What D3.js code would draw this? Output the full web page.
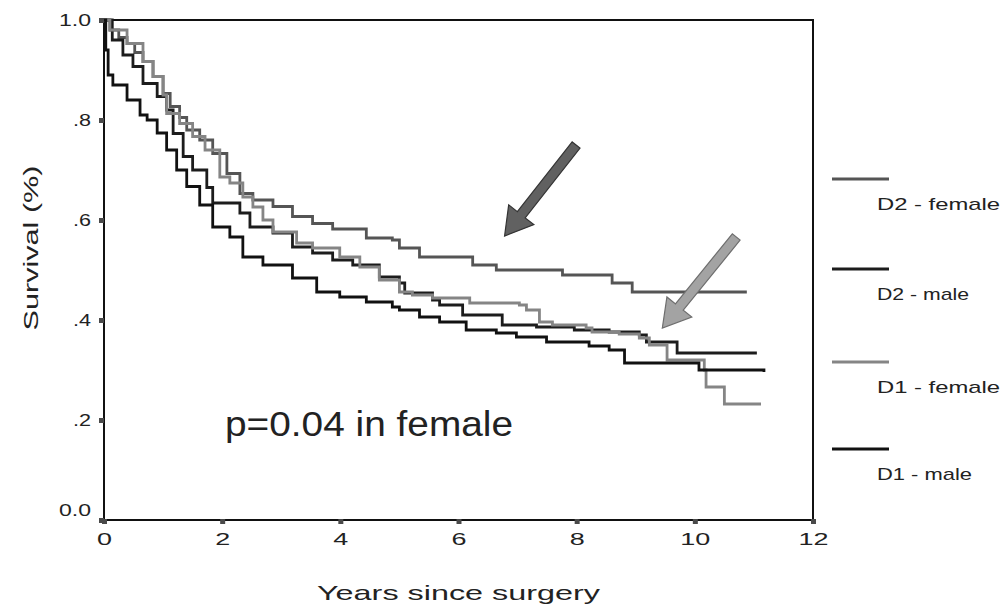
<!DOCTYPE html>
<html>
<head>
<meta charset="utf-8">
<script src="https://cdn.jsdelivr.net/npm/d3@7"></script>
<style>
  body { margin: 0; background: #fff; }
  svg { display: block; }
  text { font-family: "Liberation Sans", Arial, sans-serif; fill: #222; }
</style>
</head>
<body>
<svg id="chart" width="1005" height="606"></svg>
<script>
// Kaplan-Meier step curves, [years, survival]
var d2Female = [[0,1],[0.10,0.98],[0.25,0.965],[0.39,0.953],[0.52,0.935],[0.66,0.917],[0.83,0.887],
  [1.00,0.853],[1.12,0.827],[1.28,0.805],[1.40,0.78],[1.62,0.76],[1.84,0.733],[2.08,0.693],[2.30,0.653],
  [2.52,0.64],[2.86,0.627],[3.19,0.607],[3.53,0.593],[3.87,0.582],[4.44,0.564],[4.88,0.56],[5.00,0.544],
  [5.34,0.526],[6.24,0.51],[6.64,0.50],[7.76,0.49],[8.60,0.474],[8.94,0.456],[10.88,0.456]];
var d2Male = [[0,1],[0.14,0.96],[0.32,0.93],[0.49,0.907],[0.66,0.873],[0.90,0.847],[1.06,0.82],
  [1.17,0.773],[1.34,0.727],[1.50,0.70],[1.74,0.665],[1.84,0.634],[2.30,0.614],[2.47,0.586],[2.86,0.574],
  [3.19,0.546],[3.53,0.534],[3.87,0.52],[4.21,0.51],[4.66,0.486],[5.00,0.474],[5.09,0.454],[5.56,0.44],
  [5.68,0.43],[6.07,0.41],[6.74,0.39],[7.32,0.386],[7.96,0.38],[8.55,0.376],[9.06,0.37],[9.18,0.356],
  [9.70,0.334],[11.05,0.334]];
var d1Female = [[0,1],[0.10,0.98],[0.39,0.953],[0.66,0.917],[0.83,0.887],[1.00,0.85],[1.06,0.813],
  [1.28,0.793],[1.50,0.767],[1.71,0.74],[1.96,0.686],[2.13,0.674],[2.35,0.646],[2.52,0.626],[2.69,0.60],
  [2.86,0.576],[3.26,0.554],[3.53,0.544],[3.99,0.526],[4.33,0.506],[4.66,0.48],[5.00,0.456],[5.22,0.45],
  [5.56,0.444],[6.19,0.434],[7.03,0.43],[7.15,0.42],[7.37,0.396],[7.59,0.39],[8.16,0.384],[8.26,0.376],
  [8.72,0.372],[9.06,0.364],[9.23,0.35],[9.53,0.32],[10.16,0.30],[10.19,0.266],[10.50,0.232],[11.12,0.232]];
var d1Male = [[0,1],[0.03,0.94],[0.07,0.89],[0.15,0.87],[0.39,0.84],[0.61,0.81],[0.73,0.80],[0.90,0.774],
  [1.06,0.74],[1.23,0.70],[1.40,0.667],[1.62,0.63],[1.84,0.586],[2.13,0.566],[2.35,0.526],[2.69,0.51],
  [3.19,0.484],[3.60,0.456],[3.99,0.446],[4.44,0.436],[4.88,0.426],[5.00,0.42],[5.34,0.406],[5.68,0.396],
  [6.13,0.38],[6.64,0.374],[6.98,0.366],[7.49,0.356],[8.21,0.348],[8.55,0.34],[8.81,0.314],[10.07,0.30],
  [11.17,0.296]];

var groupNames = ["D2 - female", "D2 - male", "D1 - female", "D1 - male"];
var groupColors = ["#555555", "#1c1c1c", "#858585", "#111111"];
var xTicks = [0, 2, 4, 6, 8, 10, 12];
var yTicks = [0, 0.2, 0.4, 0.6, 0.8, 1.0];
var yTickLabels = ["0.0", ".2", ".4", ".6", ".8", "1.0"];

// arrows: tail and tip in data units, plus fill colour
var arrows = [
  { from: [7.99, 0.75], to: [6.78, 0.568], fill: "#616161", edge: "#333" },
  { from: [10.70, 0.566], to: [9.45, 0.384], fill: "#a3a3a3", edge: "#6e6e6e" }
];

var svg = d3.select("#chart");
var x = d3.scaleLinear().domain([0, 12]).range([104, 813]);
var y = d3.scaleLinear().domain([0, 1]).range([520, 20]);

// plot frame
svg.append("rect")
  .attr("x", x(0)).attr("y", y(1))
  .attr("width", x(12) - x(0)).attr("height", y(0) - y(1))
  .attr("fill", "none").attr("stroke", "#111").attr("stroke-width", 2);

// y axis labels and square tick marks
var yAxis = svg.append("g").attr("transform", "translate(" + x(0) + ",0)")
  .call(d3.axisLeft(y).tickValues(yTicks).tickSize(0).tickPadding(13)
    .tickFormat(function (d, i) { return yTickLabels[i]; }));
yAxis.select(".domain").remove();
yAxis.selectAll(".tick text")
  .attr("font-size", 17).attr("fill", "#222")
  .attr("dy", function (d) { return d === 0 ? "-0.25em" : "0.35em"; })
  .attr("textLength", function (d, i) { return yTickLabels[i].length === 3 ? 32 : 18; })
  .attr("lengthAdjust", "spacingAndGlyphs");
yAxis.selectAll(".tick").append("rect")
  .attr("x", -5).attr("y", -2.5).attr("width", 5).attr("height", 5).attr("fill", "#4a4a4a");

// x axis
var xAxis = svg.append("g").attr("transform", "translate(0," + y(0) + ")")
  .call(d3.axisBottom(x).tickValues(xTicks).tickSize(0).tickPadding(13));
xAxis.select(".domain").remove();
xAxis.selectAll(".tick text")
  .attr("font-size", 17).attr("fill", "#222")
  .attr("textLength", function (d) { return d >= 10 ? 30 : 15; })
  .attr("lengthAdjust", "spacingAndGlyphs");
xAxis.selectAll(".tick").append("rect")
  .attr("x", -2.5).attr("y", -1).attr("width", 5).attr("height", 5).attr("fill", "#4a4a4a");

// axis titles
svg.append("text")
  .attr("x", x(6)).attr("y", 600)
  .attr("text-anchor", "middle").attr("font-size", 21)
  .attr("textLength", 283).attr("lengthAdjust", "spacingAndGlyphs")
  .text("Years since surgery");
svg.append("text")
  .attr("transform", "translate(38,248) rotate(-90)")
  .attr("text-anchor", "middle").attr("font-size", 21)
  .attr("textLength", 165).attr("lengthAdjust", "spacingAndGlyphs")
  .text("Survival (%)");

// survival curves
var line = d3.line()
  .x(function (d) { return x(d[0]); })
  .y(function (d) { return y(d[1]); })
  .curve(d3.curveStepAfter);

var series = [d2Female, d2Male, d1Female, d1Male];
svg.append("g").selectAll("path")
  .data(series)
  .enter()
  .append("path")
  .attr("d", line)
  .attr("fill", "none")
  .attr("stroke", function (d, i) { return groupColors[i]; })
  .attr("stroke-width", 2.8)
  .attr("stroke-linejoin", "miter");

// big block arrows
function arrowPoints(a) {
  var x0 = x(a.from[0]), y0 = y(a.from[1]);
  var x1 = x(a.to[0]), y1 = y(a.to[1]);
  var len = Math.hypot(x1 - x0, y1 - y0);
  var ux = (x1 - x0) / len, uy = (y1 - y0) / len;
  var nx = -uy, ny = ux;
  var shaft = 5, head = 16, headLen = 27;
  var bx = x1 - ux * headLen, by = y1 - uy * headLen;
  return [
    [x0 + nx * shaft, y0 + ny * shaft],
    [bx + nx * shaft, by + ny * shaft],
    [bx + nx * head, by + ny * head],
    [x1, y1],
    [bx - nx * head, by - ny * head],
    [bx - nx * shaft, by - ny * shaft],
    [x0 - nx * shaft, y0 - ny * shaft]
  ].map(function (p) { return p.join(","); }).join(" ");
}

svg.append("g").selectAll("polygon")
  .data(arrows)
  .enter()
  .append("polygon")
  .attr("points", arrowPoints)
  .attr("fill", function (d) { return d.fill; })
  .attr("stroke", function (d) { return d.edge; })
  .attr("stroke-width", 1.2);

// annotation
svg.append("text")
  .attr("x", 225).attr("y", 436)
  .attr("font-size", 35).attr("fill", "#1a1a1a")
  .attr("textLength", 288).attr("lengthAdjust", "spacingAndGlyphs")
  .text("p=0.04 in female");

// legend to the right of the frame
var legendY = [179, 269, 362, 449];
var legendW = [123, 92, 123, 95];
var legend = svg.append("g").selectAll("g")
  .data(groupNames)
  .enter()
  .append("g")
  .attr("transform", function (d, i) { return "translate(0," + legendY[i] + ")"; });
legend.append("line")
  .attr("x1", 832).attr("x2", 889)
  .attr("stroke", function (d, i) { return groupColors[i]; })
  .attr("stroke-width", 3);
legend.append("text")
  .attr("x", 877).attr("y", 31)
  .attr("font-size", 17)
  .attr("textLength", function (d, i) { return legendW[i]; })
  .attr("lengthAdjust", "spacingAndGlyphs")
  .text(function (d) { return d; });
</script>
</body>
</html>
